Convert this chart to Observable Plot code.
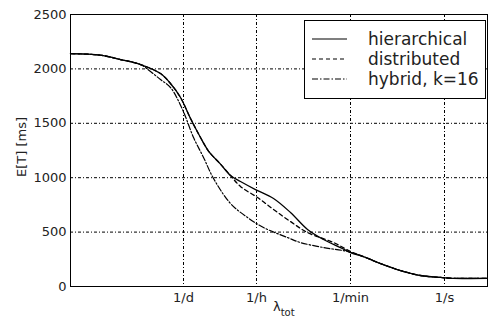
<!DOCTYPE html>
<html>
<head>
<meta charset="utf-8">
<script src="https://cdn.jsdelivr.net/npm/d3@7"></script>
<script src="https://cdn.jsdelivr.net/npm/@observablehq/plot@0.6"></script>
<style>
  html, body { margin: 0; padding: 0; background: #fff; }
</style>
</head>
<body>
<div id="chart"></div>
<script>
// x values are log10 of lambda_tot (events per second)
const sharedLog = [-7.074, -6.506, -6.128, -5.750, -5.372, -5.183, -4.993, -4.804, -4.615, -4.464, -4.237, -4.048];
const sharedET  = [2140, 2126, 2086, 2040, 1957, 1866, 1737, 1544, 1369, 1245, 1125, 1020];

const hierLog = [-3.859, -3.575, -3.234, -2.913, -2.591, -2.289, -1.967, -1.778];
const hierET  = [965, 891, 809, 680, 524, 432, 358, 312];

const distLog = [-3.859, -3.537, -3.234, -2.913, -2.591, -2.099, -1.778];
const distET  = [919, 818, 708, 597, 496, 404, 322];

const hybLog = [-7.074, -6.506, -6.128, -5.750, -5.561, -5.372, -5.183, -4.956, -4.747, -4.558, -4.369, -4.048, -3.726, -3.424, -2.970, -2.724, -2.289, -1.835];
const hybET  = [2140, 2126, 2086, 2040, 1976, 1902, 1829, 1627, 1369, 1186, 993, 763, 634, 542, 450, 404, 358, 322];

const tailLog = [-1.494, -1.211, -0.832, -0.454, -0.076, 0.170, 0.813];
const tailET  = [267, 211, 147, 101, 83, 75, 75];

const seriesNames = ["hierarchical", "distributed", "hybrid, k=16"];
const xTickValues = [1/86400, 1/3600, 1/60, 1];
const xTickLabels = ["1/d", "1/h", "1/min", "1/s"];
const yTicks = [0, 500, 1000, 1500, 2000, 2500];

function rows(logs, ets) { return logs.map((l, i) => ({x: Math.pow(10, l), y: ets[i]})); }
const hier = rows(sharedLog.concat(hierLog, tailLog), sharedET.concat(hierET, tailET));
const dist = rows(sharedLog.concat(distLog, tailLog), sharedET.concat(distET, tailET));
const hyb  = rows(hybLog.concat(tailLog), hybET.concat(tailET));
const xTicks = xTickValues.map((v, i) => ({v, label: xTickLabels[i]}));

const dashes = [null, "4,3", "6,2,1.5,2"];
const gridDash = "3,2,1,2";

const plot = Plot.plot({
  width: 490,
  height: 323,
  marginLeft: 70,
  marginRight: 3,
  marginTop: 14,
  marginBottom: 37,
  style: {fontFamily: "DejaVu Sans", fontSize: "13px", color: "#222", background: "#fff"},
  x: {type: "log", domain: [Math.pow(10, -7.074), Math.pow(10, 0.813)], axis: null},
  y: {domain: [0, 2500]},
  marks: [
    Plot.gridX(xTickValues, {stroke: "#000", strokeOpacity: 1, strokeDasharray: gridDash, strokeWidth: 1}),
    Plot.gridY(yTicks.slice(1, -1), {stroke: "#000", strokeOpacity: 1, strokeDasharray: gridDash, strokeWidth: 1}),
    Plot.text(xTicks, {x: "v", text: "label", frameAnchor: "bottom", lineAnchor: "top", dy: 6, fill: "#222", fontSize: 13}),
    Plot.axisY(yTicks, {tickSize: 0, tickPadding: 4, tickFormat: d => String(d), label: null, fill: "#222"}),
    Plot.line(hier, {x: "x", y: "y", stroke: "#000", strokeWidth: 1.3, curve: "catmull-rom"}),
    Plot.line(dist, {x: "x", y: "y", stroke: "#000", strokeWidth: 1.3, strokeDasharray: dashes[1], curve: "catmull-rom"}),
    Plot.line(hyb, {x: "x", y: "y", stroke: "#000", strokeWidth: 1.2, strokeDasharray: dashes[2], curve: "catmull-rom"}),
    Plot.frame({stroke: "#000", strokeWidth: 1})
  ]
});

const svg = d3.select(plot);
// Axis labels
svg.append("text")
  .attr("transform", "translate(26,147) rotate(-90)")
  .attr("text-anchor", "middle")
  .attr("font-size", 13)
  .attr("fill", "#222")
  .text("E[T] [ms]");
const xl = svg.append("text")
  .attr("x", 273).attr("y", 311)
  .attr("text-anchor", "start")
  .attr("font-size", 13)
  .attr("fill", "#222");
xl.append("tspan").text("λ");
xl.append("tspan").attr("dy", 5).attr("font-size", 10).text("tot");

// Legend
const lg = svg.append("g").attr("text-anchor", "start");
lg.append("rect").attr("x", 304.5).attr("y", 20.5).attr("width", 181).attr("height", 78)
  .attr("fill", "#fff").attr("stroke", "#000").attr("stroke-width", 1);
seriesNames.forEach((name, i) => {
  const cy = 39 + i * 20;
  const ln = lg.append("line").attr("x1", 312).attr("x2", 347).attr("y1", cy).attr("y2", cy)
    .attr("stroke", "#000").attr("stroke-width", 1.2);
  if (dashes[i]) ln.attr("stroke-dasharray", dashes[i]);
  lg.append("text").attr("x", 368).attr("y", cy).attr("dy", "0.35em")
    .attr("text-anchor", "start")
    .attr("font-size", 17).attr("fill", "#222").text(name);
});

document.getElementById("chart").appendChild(plot);
</script>
</body>
</html>
